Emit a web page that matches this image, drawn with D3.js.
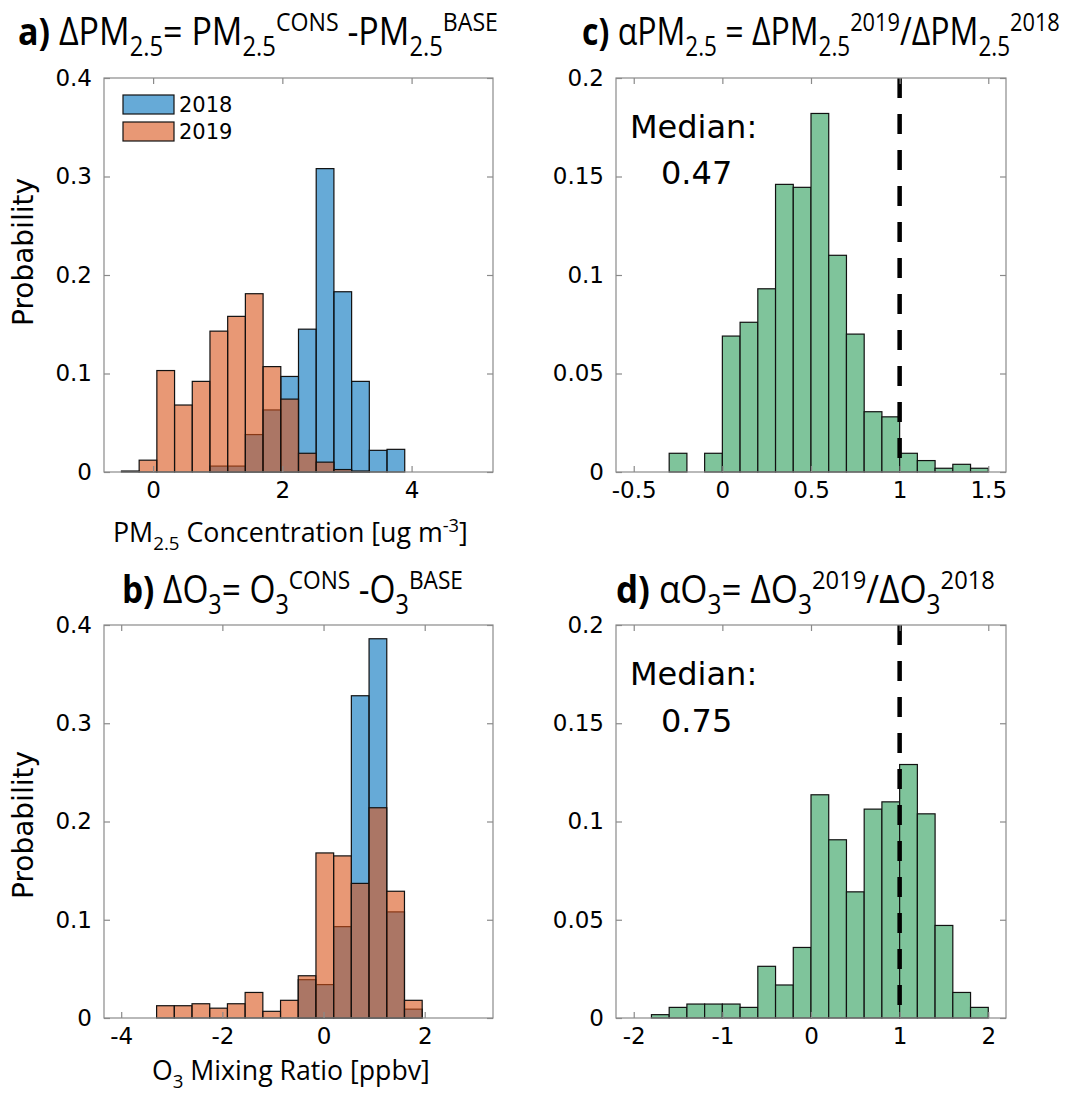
<!DOCTYPE html>
<html>
<head>
<meta charset="utf-8">
<script src="https://cdn.jsdelivr.net/npm/d3@7"></script>
<style>
  body { margin: 0; background: #fff; }
  text { fill: #000; }
</style>
</head>
<body>
<svg width="1071" height="1094"></svg>
<script>
// histogram bin settings (start, width) and probabilities
const pmBinStart = -0.49, pmBinWidth = 0.274;
const pm2018 = [0, 0, 0, 0, 0, 0.006, 0.006, 0.038, 0.063, 0.097, 0.145, 0.308, 0.183, 0.092, 0.022, 0.023];
const pm2019 = [0.001, 0.012, 0.103, 0.068, 0.092, 0.143, 0.158, 0.181, 0.107, 0.074, 0.019, 0.010, 0.0025, 0.001, 0, 0];

const o3BinStart = -3.30, o3BinWidth = 0.35;
const o32018 = [0, 0, 0, 0, 0, 0, 0, 0, 0.039, 0.034, 0.093, 0.328, 0.386, 0.108, 0.009];
const o32019 = [0.0125, 0.0125, 0.0145, 0.010, 0.0145, 0.026, 0.0068, 0.018, 0.043, 0.168, 0.165, 0.137, 0.214, 0.129, 0.018];

const aPmBinStart = -0.3, aPmBinWidth = 0.1;
const alphaPm = [0.0095, 0, 0.0095, 0.069, 0.076, 0.093, 0.146, 0.1445, 0.182, 0.110, 0.070, 0.0306, 0.028, 0.0095, 0.0058, 0.0019, 0.0039, 0.0019];

const aO3BinStart = -1.8, aO3BinWidth = 0.2;
const alphaO3 = [0.0017, 0.0054, 0.0071, 0.0071, 0.0071, 0.0054, 0.0263, 0.0168, 0.0359, 0.1136, 0.0907, 0.0642, 0.1063, 0.110, 0.129, 0.1039, 0.0471, 0.013, 0.0054];

const years = ["2018", "2019"];
const medians = ["0.47", "0.75"];

const svg = d3.select("svg");
svg.append("rect").attr("width", 1071).attr("height", 1094).attr("fill", "#fff");

const blue = "rgb(0,114,189)", orange = "rgb(217,83,25)", green = "#7fc49b";
const tickFont = "DejaVu Sans, sans-serif";
const labelFont = "Open Sans, sans-serif";

function panel(opts) {
  const g = svg.append("g");
  const x = d3.scaleLinear().domain(opts.xDomain).range([opts.left, opts.right]);
  const y = d3.scaleLinear().domain(opts.yDomain).range([opts.bottom, opts.top]);

  // bars
  opts.series.forEach((s) => {
    const bins = s.values.map((v, i) => ({ x0: opts.binStart + i * opts.binWidth, v }))
      .filter((d) => d.v > 0);
    g.selectAll(null).data(bins).enter().append("rect")
      .attr("x", (d) => x(d.x0))
      .attr("width", (d) => x(d.x0 + opts.binWidth) - x(d.x0))
      .attr("y", (d) => y(d.v))
      .attr("height", (d) => y(0) - y(d.v))
      .attr("fill", s.color)
      .attr("fill-opacity", s.opacity)
      .attr("stroke", "#111")
      .attr("stroke-width", 1.2);
  });

  // dashed reference line
  if (opts.refLine !== undefined) {
    g.append("line")
      .attr("x1", x(opts.refLine)).attr("x2", x(opts.refLine))
      .attr("y1", opts.top).attr("y2", opts.bottom)
      .attr("stroke", "#000").attr("stroke-width", 4.5)
      .attr("stroke-dasharray", "20 16");
  }

  // box
  g.append("rect")
    .attr("x", opts.left).attr("y", opts.top)
    .attr("width", opts.right - opts.left).attr("height", opts.bottom - opts.top)
    .attr("fill", "none").attr("stroke", "#8a8a8a").attr("stroke-width", 1.2);

  // axes with inward ticks
  const axB = d3.axisBottom(x).tickValues(opts.xTicks).tickSize(-6).tickPadding(10).tickFormat((d) => String(d));
  const axT = d3.axisTop(x).tickValues(opts.xTicks).tickSize(-6).tickFormat("");
  const axL = d3.axisLeft(y).tickValues(opts.yTicks).tickSize(-6).tickPadding(12).tickFormat((d) => String(d));
  const axR = d3.axisRight(y).tickValues(opts.yTicks).tickSize(-6).tickFormat("");
  [[axB, `translate(0,${opts.bottom})`], [axT, `translate(0,${opts.top})`],
   [axL, `translate(${opts.left},0)`], [axR, `translate(${opts.right},0)`]].forEach(([ax, tr]) => {
    const a = g.append("g").attr("transform", tr).call(ax);
    a.select(".domain").remove();
    a.selectAll("line").attr("stroke", "#8a8a8a").attr("stroke-width", 1.2);
    a.selectAll("text").attr("font-family", tickFont).attr("font-size", 23).attr("fill", "#111");
  });
  return { g, x, y };
}

// rich text: parts = [text, style], style is "b", "n", "sub" or "sup";
// the result is squeezed horizontally to span `width` pixels
function richText(parent, xPos, yPos, parts, size, family, width) {
  const t = parent.append("text").attr("x", xPos).attr("y", yPos)
    .attr("font-family", family).attr("font-size", size);
  let shift = 0;
  parts.forEach(([str, st]) => {
    let target = 0, fs = size, fw = "normal";
    if (st === "b") fw = "bold";
    if (st === "sub") { target = size * 0.28; fs = size * 0.7; }
    if (st === "sup") { target = -size * 0.38; fs = size * 0.68; }
    t.append("tspan").attr("dy", target - shift).attr("font-size", fs).attr("font-weight", fw).text(str);
    shift = target;
  });
  const w = t.node().getBBox().width;
  const k = width / w;
  t.attr("transform", `translate(${xPos},0) scale(${k},1) translate(${-xPos},0)`);
  return t;
}

// a) PM2.5 difference
panel({
  left: 104, right: 493, top: 78, bottom: 472,
  xDomain: [-0.76, 5.26], yDomain: [0, 0.4],
  xTicks: [0, 2, 4], yTicks: [0, 0.1, 0.2, 0.3, 0.4],
  binStart: pmBinStart, binWidth: pmBinWidth,
  series: [{ values: pm2018, color: blue, opacity: 0.6 }, { values: pm2019, color: orange, opacity: 0.6 }]
});

// legend
const leg = svg.append("g");
years.forEach((yr, i) => {
  leg.append("rect").attr("x", 123).attr("y", 95 + i * 27).attr("width", 51).attr("height", 19)
    .attr("fill", i === 0 ? blue : orange).attr("fill-opacity", 0.6)
    .attr("stroke", "#111").attr("stroke-width", 1.2);
  leg.append("text").attr("x", 179).attr("y", 112 + i * 27)
    .attr("font-family", tickFont).attr("font-size", 21).text(yr);
});

// b) O3 difference
panel({
  left: 104, right: 493, top: 625, bottom: 1018,
  xDomain: [-4.34, 3.35], yDomain: [0, 0.4],
  xTicks: [-4, -2, 0, 2], yTicks: [0, 0.1, 0.2, 0.3, 0.4],
  binStart: o3BinStart, binWidth: o3BinWidth,
  series: [{ values: o32018, color: blue, opacity: 0.6 }, { values: o32019, color: orange, opacity: 0.6 }]
});

// c) alpha PM2.5
panel({
  left: 616, right: 1006, top: 78, bottom: 472,
  xDomain: [-0.6, 1.6], yDomain: [0, 0.2],
  xTicks: [-0.5, 0, 0.5, 1, 1.5], yTicks: [0, 0.05, 0.1, 0.15, 0.2],
  binStart: aPmBinStart, binWidth: aPmBinWidth, refLine: 1,
  series: [{ values: alphaPm, color: green, opacity: 1 }]
});

// d) alpha O3
panel({
  left: 616, right: 1006, top: 625, bottom: 1018,
  xDomain: [-2.2, 2.2], yDomain: [0, 0.2],
  xTicks: [-2, -1, 0, 1, 2], yTicks: [0, 0.05, 0.1, 0.15, 0.2],
  binStart: aO3BinStart, binWidth: aO3BinWidth, refLine: 1,
  series: [{ values: alphaO3, color: green, opacity: 1 }]
});

// median annotations
[[138, 184, medians[0]], [685, 732, medians[1]]].forEach(([y1, y2, m]) => {
  svg.append("text").attr("x", 630).attr("y", y1).attr("font-family", tickFont).attr("font-size", 32).text("Median:");
  svg.append("text").attr("x", 661).attr("y", y2).attr("font-family", tickFont).attr("font-size", 32).text(m);
});

// y labels
[252, 825].forEach((cy) => {
  svg.append("text").attr("transform", `translate(33,${cy}) rotate(-90)`)
    .attr("text-anchor", "middle").attr("font-family", tickFont).attr("font-size", 28).text("Probability");
});

// x labels
richText(svg, 113, 542, [["PM", "n"], ["2.5", "sub"], [" Concentration [ug m", "n"], ["-3", "sup"], ["]", "n"]], 27, labelFont, 355);
richText(svg, 152, 1080, [["O", "n"], ["3", "sub"], [" Mixing Ratio [ppbv]", "n"]], 27, labelFont, 278);

// titles
const ts = 38;
richText(svg, 18, 45, [["a)", "b"], [" \u0394PM", "n"], ["2.5", "sub"], ["= PM", "n"], ["2.5", "sub"], ["CONS", "sup"],
  [" -PM", "n"], ["2.5", "sub"], ["BASE", "sup"]], ts, labelFont, 480);
richText(svg, 582, 45, [["c)", "b"], [" \u03B1PM", "n"], ["2.5", "sub"], [" = \u0394PM", "n"], ["2.5", "sub"], ["2019", "sup"],
  ["/\u0394PM", "n"], ["2.5", "sub"], ["2018", "sup"]], ts, labelFont, 478);
richText(svg, 122, 603, [["b)", "b"], [" \u0394O", "n"], ["3", "sub"], ["= O", "n"], ["3", "sub"], ["CONS", "sup"],
  [" -O", "n"], ["3", "sub"], ["BASE", "sup"]], ts, labelFont, 341);
richText(svg, 616, 603, [["d)", "b"], [" \u03B1O", "n"], ["3", "sub"], ["= \u0394O", "n"], ["3", "sub"], ["2019", "sup"],
  ["/\u0394O", "n"], ["3", "sub"], ["2018", "sup"]], ts, labelFont, 379);
</script>
</body>
</html>
